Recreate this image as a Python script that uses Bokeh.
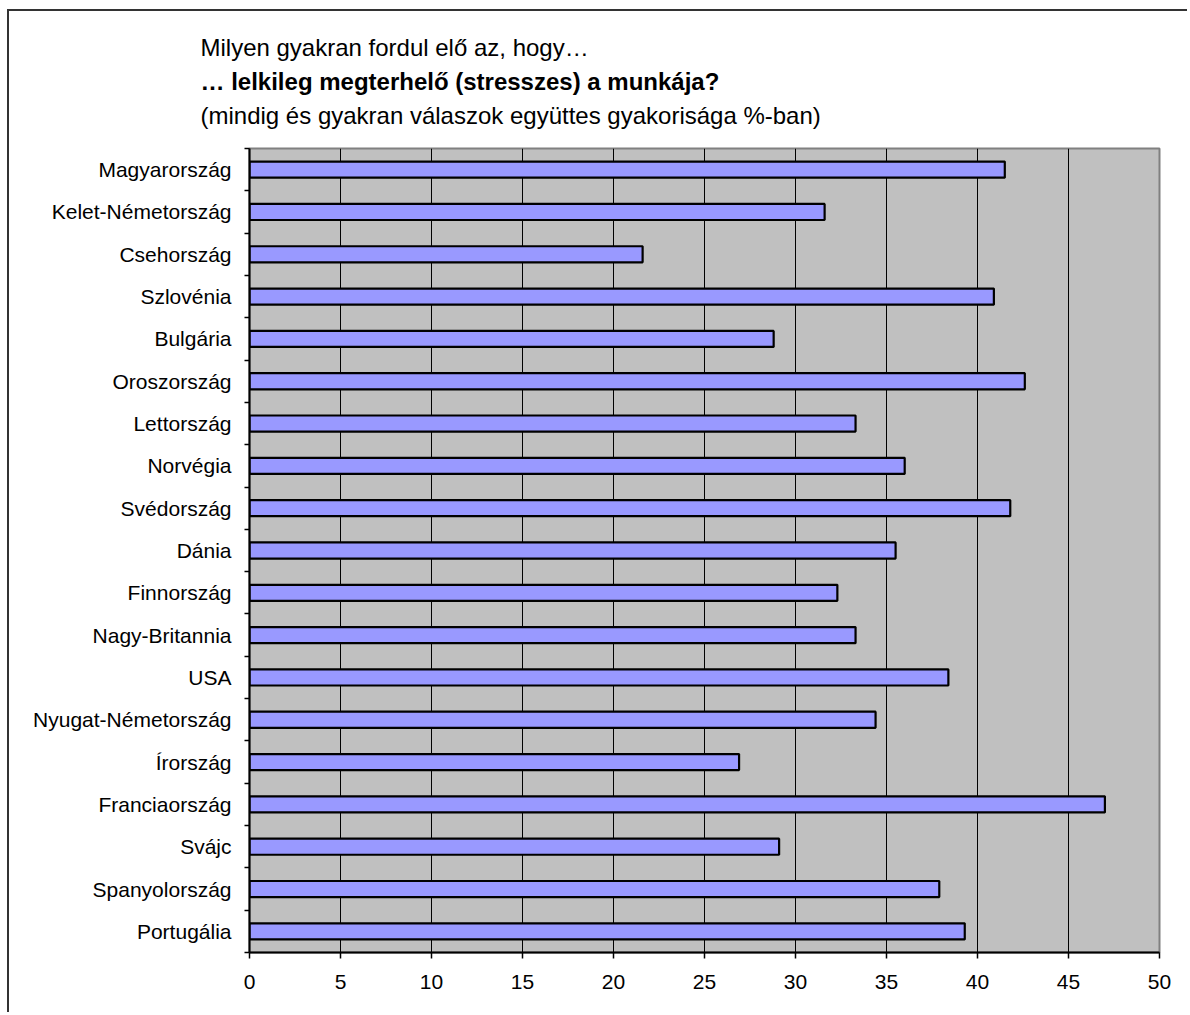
from bokeh.plotting import figure
from bokeh.models import Range1d, FixedTicker, Title, ColumnDataSource
from bokeh.embed import file_html
from bokeh.resources import INLINE

countries = ["Magyarország", "Kelet-Németország", "Csehország", "Szlovénia", "Bulgária",
             "Oroszország", "Lettország", "Norvégia", "Svédország", "Dánia", "Finnország",
             "Nagy-Britannia", "USA", "Nyugat-Németország", "Írország", "Franciaország",
             "Svájc", "Spanyolország", "Portugália"]
values = [41.5, 31.6, 21.6, 40.9, 28.8, 42.6, 33.3, 36.0, 41.8, 35.5, 32.3,
          33.3, 38.4, 34.4, 26.9, 47.0, 29.1, 37.9, 39.3]
x_ticks = [0, 5, 10, 15, 20, 25, 30, 35, 40, 45, 50]
title_lines = ["Milyen gyakran fordul elő az, hogy…",
               "… lelkileg megterhelő (stresszes) a munkája?",
               "(mindig és gyakran válaszok együttes gyakorisága %-ban)"]

n = len(countries)
ypos = [n - 1 - i for i in range(n)]
src = ColumnDataSource(dict(y=ypos, v=values, name=countries))

FONT = "Liberation Sans"

p = figure(width=1180, height=1003, output_backend="svg", toolbar_location=None,
           x_range=Range1d(x_ticks[0], x_ticks[-1]), y_range=Range1d(-0.5, n - 0.5),
           title=None, min_border_left=240, min_border_right=30,
           min_border_top=137, min_border_bottom=62)
p.styles = {"border-left": "2px solid #333333", "border-top": "2px solid #333333",
            "margin-left": "7px", "margin-top": "9px"}

p.background_fill_color = "#C0C0C0"
p.border_fill_color = "white"
p.outline_line_color = "#808080"
p.outline_line_width = 2

p.hbar(y="y", right="v", left=0, height=0.38, source=src,
       fill_color="#9999FF", line_color="black", line_width=2.2)

# grid
p.xgrid.ticker = FixedTicker(ticks=x_ticks[1:-1])
p.xgrid.grid_line_color = "black"
p.xgrid.grid_line_width = 1
p.ygrid.grid_line_color = None

# x axis
xa = p.xaxis[0]
xa.ticker = FixedTicker(ticks=x_ticks)
xa.major_tick_out = 6
xa.major_tick_in = 0
xa.minor_tick_line_color = None
xa.axis_line_color = "black"
xa.axis_line_width = 2
xa.major_tick_line_width = 1.5
xa.major_label_text_font = FONT
xa.major_label_text_font_size = "21px"
xa.major_label_text_color = "black"
xa.major_label_standoff = 16

# y axis
ya = p.yaxis[0]
ya.ticker = FixedTicker(ticks=ypos, minor_ticks=[k - 0.5 for k in range(n + 1)])
ya.major_label_overrides = {y: name for y, name in zip(ypos, countries)}
ya.major_tick_line_color = None
ya.major_tick_out = 0
ya.major_tick_in = 0
ya.minor_tick_out = 5
ya.minor_tick_in = 0
ya.minor_tick_line_color = "black"
ya.minor_tick_line_width = 1.5
ya.axis_line_color = "black"
ya.axis_line_width = 2
ya.major_label_text_font = FONT
ya.major_label_text_font_size = "21px"
ya.major_label_text_color = "black"
ya.major_label_standoff = 13

# titles (first added sits closest to the plot)
p.add_layout(Title(text=" ", text_font_size="10px", standoff=4), "above")
styles = ["normal", "bold", "normal"]
for txt, st in reversed(list(zip(title_lines, styles))):
    p.add_layout(Title(text=txt, text_font=FONT, text_font_size="24px",
                       text_font_style=st, text_color="black", align="left",
                       offset=-49, standoff=5), "above")

open("out.html", "w").write(file_html(p, INLINE))
